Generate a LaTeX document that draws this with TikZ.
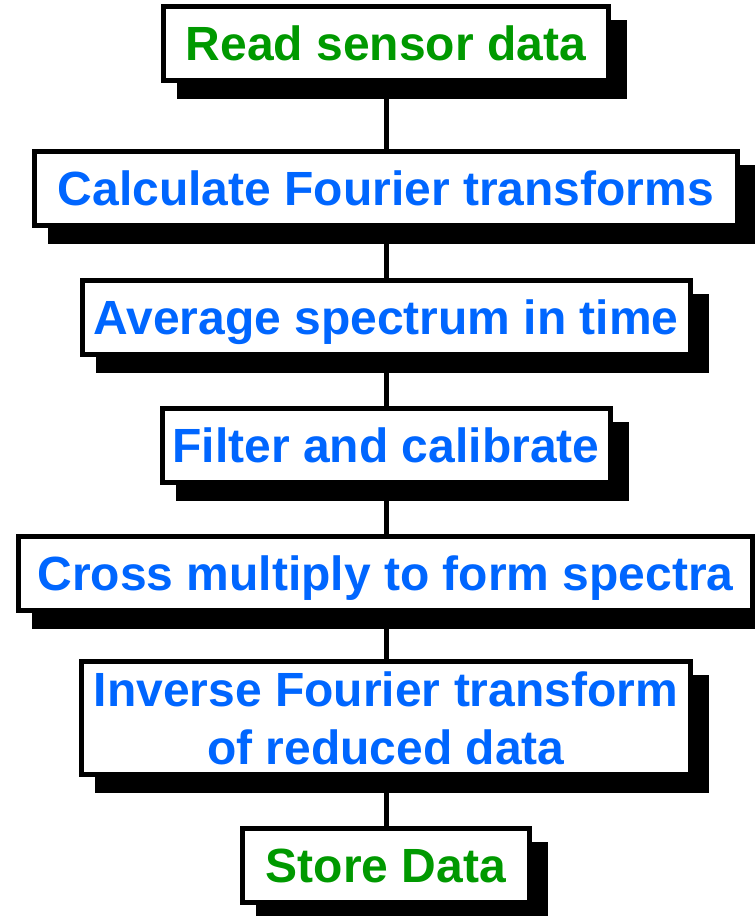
\documentclass[tikz,border=0pt]{standalone}
\usepackage{fontspec}
\setmainfont{Liberation Sans}
\usetikzlibrary{calc}
\definecolor{stepgreen}{RGB}{0,153,0}
\definecolor{stepblue}{RGB}{0,102,255}
\pgfdeclarelayer{background}
\pgfsetlayers{background,main}
\tikzset{
  flowbox/.style={draw=black, line width=5pt, fill=white, inner sep=0pt,
    align=center, font=\fontsize{48}{58}\selectfont\bfseries},
  oneline/.style={flowbox, text height=34.4pt, text depth=0pt, minimum height=74pt},
  endtext/.style={text=stepgreen},
  midtext/.style={text=stepblue},
  link/.style={draw=black, line width=5pt},
  boxshadow/.style={fill=black}
}
\newcommand{\shadowof}[1]{%
  \fill[boxshadow] ($(#1.north west)+(16pt,-16pt)$) rectangle ($(#1.south east)+(16pt,-16pt)$);}
\begin{document}
\begin{tikzpicture}[x=1pt,y=1pt]
  \useasboundingbox (0,0) rectangle (755,-916);
  % process steps, top to bottom
  \node[oneline, endtext, minimum width=445pt] (read)    at (386,-43.5) {Read sensor data};
  \node[oneline, midtext, minimum width=703pt] (fourier) at (386,-188.5) {Calculate Fourier transforms};
  \node[oneline, midtext, minimum width=608pt] (avg)     at (386,-317) {Average spectrum in time};
  \node[oneline, midtext, minimum width=448pt] (filter)  at (386,-445) {Filter and calibrate};
  \node[oneline, midtext, minimum width=734pt] (cross)   at (385.5,-573.5) {Cross multiply to form spectra};
  \node[flowbox, midtext, minimum width=609pt, minimum height=113pt] (inverse) at (386,-718)
       {Inverse Fourier transform\\of reduced data};
  \node[oneline, endtext, minimum width=287pt] (store)   at (386,-865.5) {Store Data};
  % connectors and drop shadows behind the boxes
  \begin{pgfonlayer}{background}
    \draw[link] (read.south) -- (fourier.north);
    \draw[link] (fourier.south) -- (avg.north);
    \draw[link] (avg.south) -- (filter.north);
    \draw[link] (filter.south) -- (cross.north-|filter.south);
    \draw[link] (cross.south-|filter.south) -- (inverse.north);
    \draw[link] (inverse.south) -- (store.north);
    \shadowof{read}
    \shadowof{fourier}
    \shadowof{avg}
    \shadowof{filter}
    \shadowof{cross}
    \shadowof{inverse}
    \shadowof{store}
  \end{pgfonlayer}
\end{tikzpicture}
\end{document}
